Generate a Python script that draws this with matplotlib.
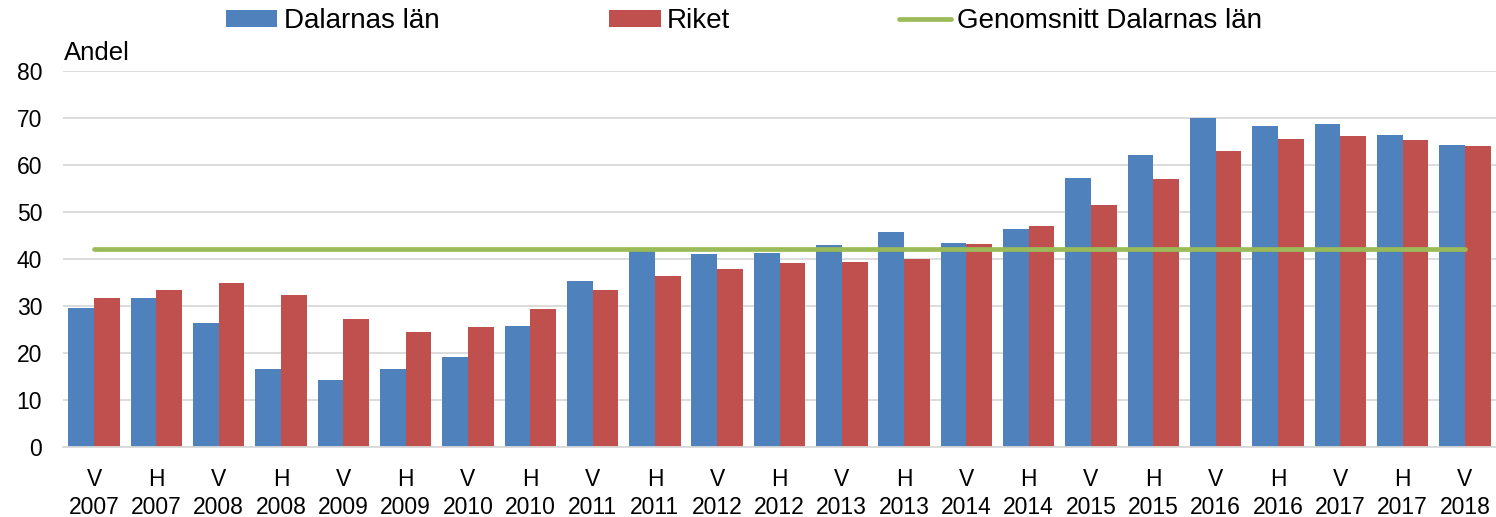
import numpy as np
import matplotlib
matplotlib.use("Agg")
import matplotlib.pyplot as plt
from matplotlib.lines import Line2D
from matplotlib.patches import Patch

plt.rcParams['font.family'] = ['Liberation Sans', 'DejaVu Sans']

halvar = ["V", "H", "V", "H", "V", "H", "V", "H", "V", "H", "V", "H",
          "V", "H", "V", "H", "V", "H", "V", "H", "V", "H", "V"]
ar = [2007, 2007, 2008, 2008, 2009, 2009, 2010, 2010, 2011, 2011, 2012, 2012,
      2013, 2013, 2014, 2014, 2015, 2015, 2016, 2016, 2017, 2017, 2018]
dalarna = [29.5, 31.8, 26.4, 16.7, 14.3, 16.5, 19.1, 25.7, 35.3, 42.0, 41.0, 41.3,
           43.0, 45.7, 43.3, 46.3, 57.2, 62.2, 70.1, 68.2, 68.7, 66.3, 64.2]
riket = [31.8, 33.4, 34.8, 32.4, 27.2, 24.4, 25.5, 29.4, 33.5, 36.4, 37.8, 39.2,
         39.4, 40.1, 43.1, 47.0, 51.4, 57.0, 62.9, 65.5, 66.1, 65.3, 64.0]
snitt_dalarna = 42.2

blue = "#4F81BD"
red = "#C0504D"
green = "#9BBB59"
grid_col = "#D9D9D9"

fig = plt.figure(figsize=(14.96, 5.17), dpi=100)
ax = fig.add_axes([63 / 1496, 1 - 447 / 517, 1 - 63 / 1496, (447 - 71) / 517])

x = np.arange(len(dalarna))
w = 0.413
ax.bar(x - w / 2, dalarna, width=w, color=blue, zorder=2)
ax.bar(x + w / 2, riket, width=w, color=red, zorder=2)
ax.plot([x[0], x[-1]], [snitt_dalarna, snitt_dalarna], color=green, lw=3.4,
        solid_capstyle='round', zorder=3)

ax.set_xlim(-0.5, len(x) - 0.5)
ax.set_ylim(0, 80)
ax.set_yticks(range(0, 81, 10))
ax.yaxis.grid(True, color=grid_col, lw=1.3, zorder=0)
ax.set_axisbelow(True)
for s in ['top', 'right', 'left']:
    ax.spines[s].set_visible(False)
ax.spines['bottom'].set_color(grid_col)
ax.spines['bottom'].set_linewidth(1.3)

ax.set_xticks(x)
ax.set_xticklabels([f"{h}\n{a}" for h, a in zip(halvar, ar)], linespacing=1.3,
                   fontsize=16.5)
ax.tick_params(axis='both', length=0)
ax.tick_params(axis='y', labelsize=16.5, pad=15)
ax.tick_params(axis='x', pad=15)

fig.text(64 / 1496, 1 - 60 / 517, "Andel", fontsize=18.5, va='baseline', ha='left')

handles = [Patch(facecolor=blue), Patch(facecolor=red),
           Line2D([0], [0], color=green, lw=3.4, solid_capstyle='round')]
labels = ["Dalarnas län", "Riket", "Genomsnitt Dalarnas län"]
fig.legend(handles, labels, loc='center', bbox_to_anchor=(744 / 1496, 1 - 21 / 517),
           ncol=3, frameon=False, fontsize=20, handlelength=1.87, handleheight=0.55,
           handletextpad=0.22, columnspacing=6.1, borderpad=0, borderaxespad=0)

fig.savefig("out.png", dpi=100)
